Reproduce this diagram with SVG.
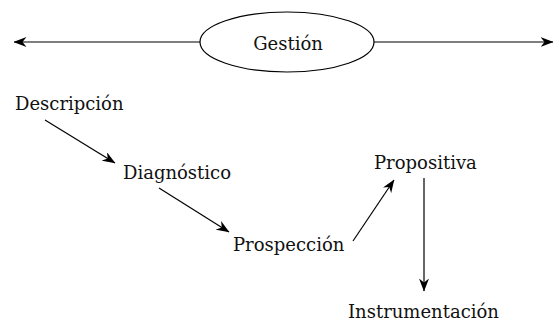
<svg xmlns="http://www.w3.org/2000/svg" width="555" height="324" viewBox="0 0 555 324">
<style>
text{font-family:"DejaVu Serif","Liberation Serif",serif;font-size:18px;fill:#111}
.c{stroke:#000;stroke-width:1.2;fill:none}
</style>
<defs>
<marker id="ah" viewBox="0 0 13 10" refX="12.5" refY="5" markerWidth="13" markerHeight="10" markerUnits="userSpaceOnUse" orient="auto-start-reverse">
<path d="M0,0 L13,5 L0,10 L4,5 Z" fill="#000"/>
</marker>
</defs>
<rect width="555" height="324" fill="#fff"/>
<g id="connectors">
<line class="c" x1="200" y1="42" x2="14" y2="42" marker-end="url(#ah)"/>
<line class="c" x1="374" y1="42" x2="553" y2="42" marker-end="url(#ah)"/>
<line class="c" x1="45" y1="120" x2="115" y2="163" marker-end="url(#ah)"/>
<line class="c" x1="159" y1="188" x2="229" y2="232" marker-end="url(#ah)"/>
<line class="c" x1="353" y1="241" x2="394" y2="180" marker-end="url(#ah)"/>
<line class="c" x1="424" y1="178" x2="424" y2="291" marker-end="url(#ah)"/>
</g>
<g id="gestion">
<ellipse cx="287" cy="42" rx="87" ry="30" fill="#fff" stroke="#000" stroke-width="1.2"/>
<text x="288" y="50" text-anchor="middle">Gestión</text>
</g>
<g id="descripcion"><text x="15" y="110">Descripción</text></g>
<g id="diagnostico"><text x="123" y="179">Diagnóstico</text></g>
<g id="prospeccion"><text x="233" y="251">Prospección</text></g>
<g id="propositiva"><text x="374" y="169">Propositiva</text></g>
<g id="instrumentacion"><text x="348" y="318">Instrumentación</text></g>
</svg>
